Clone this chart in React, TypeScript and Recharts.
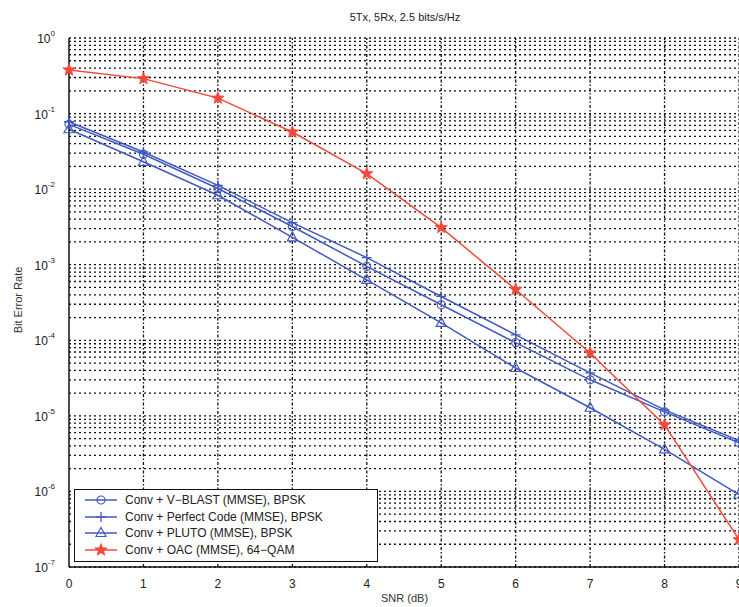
import React from 'react';
import { LineChart, Line, XAxis, YAxis, ReferenceLine } from 'recharts';

const snr = [0, 1, 2, 3, 4, 5, 6, 7, 8, 9];
const vblast = [0.072, 0.029, 0.0102, 0.0032, 0.00095, 0.000295, 0.000093, 0.00003, 0.0000113, 0.0000044];
const perfectCode = [0.078, 0.031, 0.0112, 0.0036, 0.00124, 0.00038, 0.000118, 0.000037, 0.000012, 0.0000047];
const pluto = [0.062, 0.023, 0.0083, 0.0023, 0.00063, 0.00017, 0.000043, 0.0000128, 0.0000036, 0.00000091];
const oac = [0.377, 0.29, 0.16, 0.057, 0.016, 0.0031, 0.00047, 0.000068, 0.0000076, 0.00000023];

const decades = [1e-7, 1e-6, 1e-5, 1e-4, 1e-3, 1e-2, 1e-1, 1];
const mantissas = [1, 2, 3, 4, 5, 6, 7, 8, 9];

const BLUE = '#4259c2';
const RED = '#f2483a';
const FONT = '"Liberation Sans", Arial, Helvetica, sans-serif';

const data = snr.map((s, i) => ({
    snr: s,
    vblast: vblast[i],
    perfect: perfectCode[i],
    pluto: pluto[i],
    oac: oac[i],
}));

// log grid: every 1..9 x 10^k inside the plotted range
const gridValues: number[] = [];
decades.slice(0, -1).forEach((d) => mantissas.forEach((m) => gridValues.push(m * d)));
gridValues.push(1);

const CircleMark = ({ cx, cy, color }: any) => (
    <circle cx={cx} cy={cy} r={4} fill="none" stroke={color} strokeWidth={1.2} />
);
const PlusMark = ({ cx, cy, color }: any) => (
    <path d={`M${cx - 5},${cy}H${cx + 5}M${cx},${cy - 5}V${cy + 5}`} stroke={color} strokeWidth={1.3} fill="none" />
);
const TriangleMark = ({ cx, cy, color }: any) => (
    <path d={`M${cx},${cy - 5.5}L${cx + 5},${cy + 3.5}L${cx - 5},${cy + 3.5}Z`} stroke={color} strokeWidth={1.2} fill="none" />
);
const StarMark = ({ cx, cy, color }: any) => {
    const pts: string[] = [];
    for (let k = 0; k < 10; k++) {
        const r = k % 2 === 0 ? 6.5 : 2.7;
        const a = -Math.PI / 2 + (k * Math.PI) / 5;
        pts.push(`${cx + r * Math.cos(a)},${cy + r * Math.sin(a)}`);
    }
    return <polygon points={pts.join(' ')} fill={color} stroke={color} strokeWidth={0.8} />;
};

const series = [
    { key: 'vblast', name: 'Conv + V\u2212BLAST (MMSE), BPSK', color: BLUE, Mark: CircleMark },
    { key: 'perfect', name: 'Conv + Perfect Code (MMSE), BPSK', color: BLUE, Mark: PlusMark },
    { key: 'pluto', name: 'Conv + PLUTO (MMSE), BPSK', color: BLUE, Mark: TriangleMark },
    { key: 'oac', name: 'Conv + OAC (MMSE), 64\u2212QAM', color: RED, Mark: StarMark },
];

const LogTick = ({ x, y, payload }: any) => {
    const exp = Math.round(Math.log10(payload.value));
    return (
        <text x={x - 6} y={y + 5} textAnchor="end" fontSize={12} fill="#222" fontFamily={FONT}>
            <tspan>10</tspan>
            <tspan dy={-7} fontSize={8}>{exp}</tspan>
        </text>
    );
};

const LegendBox = () => (
    <div style={{
        position: 'absolute', left: 74, top: 489,
        border: '1px solid #111', background: '#fff', width: 302, padding: '2px 0 3px 0',
        fontFamily: FONT, fontSize: 12, color: '#222', lineHeight: '16.5px',
    }}>
        {series.map(({ key, name, color, Mark }) => (
            <div key={key} style={{ display: 'flex', alignItems: 'center', height: 16.5 }}>
                <svg width={44} height={16} style={{ marginLeft: 6 }}>
                    <line x1={4} y1={8} x2={36} y2={8} stroke={color} strokeWidth={1.5} />
                    <Mark cx={20} cy={8} color={color} />
                </svg>
                <span>{name}</span>
            </div>
        ))}
    </div>
);

export default function App() {
    return (
        <div style={{ position: 'absolute', left: 0, top: 0, width: 739, height: 607, overflow: 'hidden', background: '#fff' }}>
            <div style={{ position: 'absolute', left: 330, top: 11, width: 150, textAlign: 'center', fontFamily: FONT, fontSize: 11, color: '#222', whiteSpace: 'nowrap' }}>
                5Tx, 5Rx, 2.5 bits/s/Hz
            </div>
            <div style={{ position: 'absolute', left: 18, top: 300, transform: 'translate(-50%, -50%) rotate(-90deg)', fontFamily: FONT, fontSize: 11, color: '#333', whiteSpace: 'nowrap' }}>
                Bit Error Rate
            </div>
            <div style={{ position: 'absolute', left: 381, top: 592, fontFamily: FONT, fontSize: 11, color: '#333', whiteSpace: 'nowrap' }}>
                SNR (dB)
            </div>
            <LineChart width={760} height={607} data={data} margin={{ top: 38, right: 21, bottom: 10, left: 0 }}>
                <XAxis dataKey="snr" type="number" domain={[0, 9]} ticks={snr} height={30}
                    stroke="#111" strokeWidth={1.5} tickLine={false} tickMargin={6}
                    tick={{ fontSize: 12, fill: '#222', fontFamily: FONT }} />
                <XAxis xAxisId="top" orientation="top" type="number" domain={[0, 9]} height={0}
                    stroke="#111" strokeWidth={1.5} tick={false} tickLine={false} />
                <YAxis type="number" scale="log" domain={[1e-7, 1]} ticks={decades} width={69}
                    allowDataOverflow stroke="#111" strokeWidth={1.5} tickLine={false} tick={<LogTick />} />
                {gridValues.map((v) => (
                    <ReferenceLine key={`h${v}`} y={v} stroke="#111" strokeWidth={1.3} strokeDasharray="2 3" />
                ))}
                {snr.slice(1).map((v) => (
                    <ReferenceLine key={`v${v}`} x={v} stroke="#111" strokeWidth={1.3} strokeDasharray="3 2 1.5 2" />
                ))}
                {series.map(({ key, name, color, Mark }) => (
                    <Line key={key} dataKey={key} name={name} stroke={color} strokeWidth={1.5}
                        isAnimationActive={false}
                        dot={(p: any) => <Mark key={`${key}-${p.index}`} cx={p.cx} cy={p.cy} color={color} />} />
                ))}
            </LineChart>
            <LegendBox />
        </div>
    );
}
